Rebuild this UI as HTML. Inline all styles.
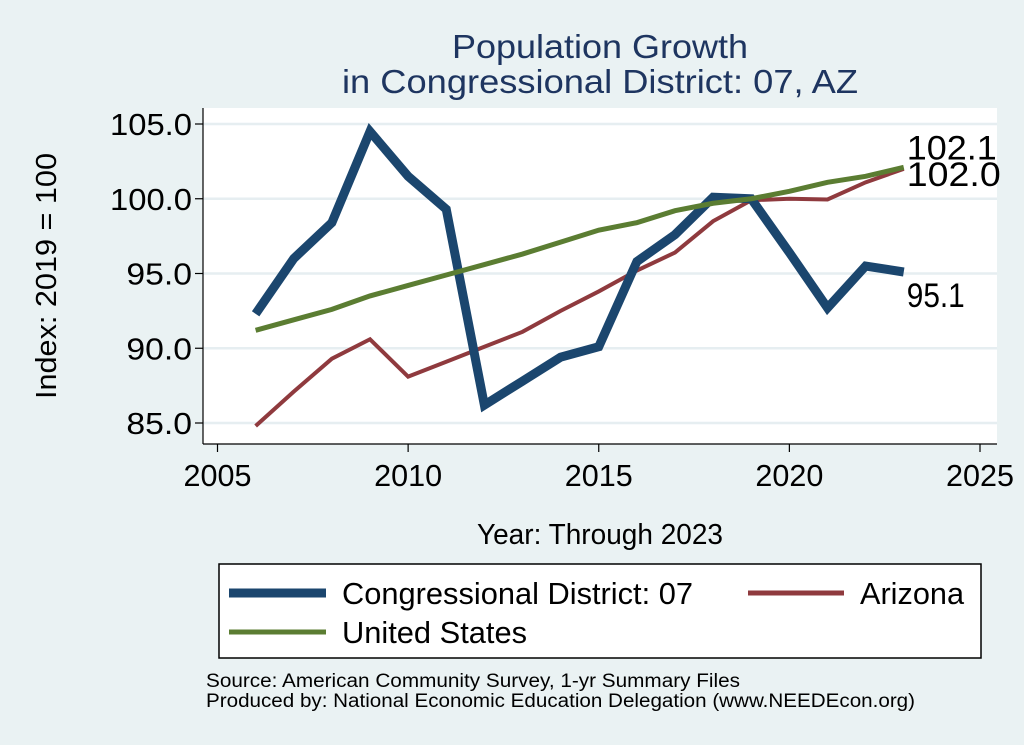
<!DOCTYPE html>
<html><head><meta charset="utf-8"><style>
body{margin:0;background:#eaf2f3;}
svg{display:block;font-family:"Liberation Sans",sans-serif;}
</style></head><body>
<svg id="chart" width="1024" height="745" viewBox="0 0 1024 745">
<rect x="0" y="0" width="1024" height="745" fill="#eaf2f3"/>
<text x="600" y="58" text-anchor="middle" font-size="33" fill="#1e3560" textLength="296" lengthAdjust="spacingAndGlyphs">Population Growth</text>
<text x="600" y="93" text-anchor="middle" font-size="33" fill="#1e3560" textLength="516" lengthAdjust="spacingAndGlyphs">in Congressional District: 07, AZ</text>
<rect x="203" y="108" width="794" height="336" fill="#ffffff"/>
<g id="grid"></g>
<g id="axes"></g>
<g id="series"></g>
<text transform="translate(56,276) rotate(-90)" text-anchor="middle" font-size="29" fill="#000" textLength="246" lengthAdjust="spacingAndGlyphs">Index: 2019 = 100</text>
<text x="600" y="544" text-anchor="middle" font-size="29" fill="#000" textLength="246" lengthAdjust="spacingAndGlyphs">Year: Through 2023</text>
<g>
<rect x="219" y="564" width="762" height="94" fill="#fff" stroke="#000" stroke-width="1.5"/>
<line x1="229" y1="593" x2="326" y2="593" stroke="#1b466e" stroke-width="9"/>
<text x="342" y="604" font-size="31" textLength="351" lengthAdjust="spacingAndGlyphs">Congressional District: 07</text>
<line x1="748" y1="593" x2="844" y2="593" stroke="#8f3a3e" stroke-width="5"/>
<text x="860" y="604" font-size="31" textLength="104" lengthAdjust="spacingAndGlyphs">Arizona</text>
<line x1="229" y1="632" x2="326" y2="632" stroke="#5b7d32" stroke-width="5"/>
<text x="342" y="643" font-size="31" textLength="185" lengthAdjust="spacingAndGlyphs">United States</text>
</g>
<text x="206" y="687" font-size="19" textLength="534" lengthAdjust="spacingAndGlyphs">Source: American Community Survey, 1-yr Summary Files</text>
<text x="206" y="707" font-size="19" textLength="709" lengthAdjust="spacingAndGlyphs">Produced by: National Economic Education Delegation (www.NEEDEcon.org)</text>
</svg>
<script>
const years=[2006,2007,2008,2009,2010,2011,2012,2013,2014,2015,2016,2017,2018,2019,2020,2021,2022,2023];
const districtValues=[92.3,96.0,98.4,104.5,101.5,99.3,86.2,87.8,89.4,90.1,95.8,97.6,100.1,100.0,96.4,92.7,95.5,95.1];
const arizonaValues=[84.8,87.1,89.3,90.6,88.1,89.1,90.1,91.1,92.5,93.8,95.2,96.4,98.5,99.9,100.0,99.95,101.1,102.0];
const usValues=[91.2,91.9,92.6,93.5,94.2,94.9,95.6,96.3,97.1,97.9,98.4,99.2,99.7,100.0,100.5,101.1,101.5,102.1];
const yTicks=[85,90,95,100,105];
const yTickLabels=["85.0","90.0","95.0","100.0","105.0"];
const xTicks=[2005,2010,2015,2020,2025];
const endLabels=["95.1","102.0","102.1"];
const NS="http://www.w3.org/2000/svg";
const xs=v=>217.5+(v-2005)*(980-217.5)/20;
const ys=v=>423-(v-85)*(423-124)/20;
function mk(tag,attrs,parent){const e=document.createElementNS(NS,tag);for(const k in attrs)e.setAttribute(k,attrs[k]);parent.appendChild(e);return e;}
const grid=document.getElementById('grid'),axes=document.getElementById('axes'),series=document.getElementById('series');
yTicks.forEach((t,i)=>{
 const g=mk('line',{x1:203,x2:997,y1:ys(t),y2:ys(t),stroke:'#e6eef1','stroke-width':2.5},grid);
 
 
 const tk=mk('line',{x1:195,x2:203,y1:ys(t),y2:ys(t),stroke:'#000','stroke-width':1.2},axes);
 
 
 const lb=mk('text',{x:192,y:ys(t)+11,'text-anchor':'end','font-size':31,textLength:yTickLabels[i].length*16.4,lengthAdjust:'spacingAndGlyphs'},axes);
 lb.textContent=yTickLabels[i];
 
 
});
xTicks.forEach(t=>{
 const tk=mk('line',{x1:xs(t),x2:xs(t),y1:444,y2:452,stroke:'#000','stroke-width':1.2},axes);
 
 
 const lb=mk('text',{x:xs(t),y:486,'text-anchor':'middle','font-size':31,textLength:68,lengthAdjust:'spacingAndGlyphs'},axes);
 lb.textContent=String(t);
 
 
});
const ya=mk('line',{x1:203,x2:203,y1:108,y2:444,stroke:'#000','stroke-width':1.2},axes);


const xa=mk('line',{x1:203,x2:997,y1:444,y2:444,stroke:'#000','stroke-width':1.2},axes);


function line(vals,color,w,name){
 const p=mk('polyline',{points:vals.map((v,i)=>xs(years[i])+','+ys(v)).join(' '),fill:'none',stroke:color,'stroke-width':w,'stroke-linejoin':'miter','stroke-miterlimit':3},series);
 
 
}
line(arizonaValues,'#8f3a3e',4,'arizona-line');
line(districtValues,'#1b466e',9,'district-line');
line(usValues,'#5b7d32',5,'us-line');
const lx=xs(years[years.length-1])+3;
const l1=mk('text',{x:lx,y:ys(districtValues[districtValues.length-1])+35,'font-size':34,textLength:58,lengthAdjust:'spacingAndGlyphs'},series);
l1.textContent=endLabels[0];


const l2=mk('text',{x:lx,y:ys(arizonaValues[arizonaValues.length-1])+17,'font-size':34,textLength:94,lengthAdjust:'spacingAndGlyphs'},series);
l2.textContent=endLabels[1];


const l3=mk('text',{x:lx,y:ys(usValues[usValues.length-1])-8,'font-size':34,textLength:90,lengthAdjust:'spacingAndGlyphs'},series);
l3.textContent=endLabels[2];


</script>
</body></html>
